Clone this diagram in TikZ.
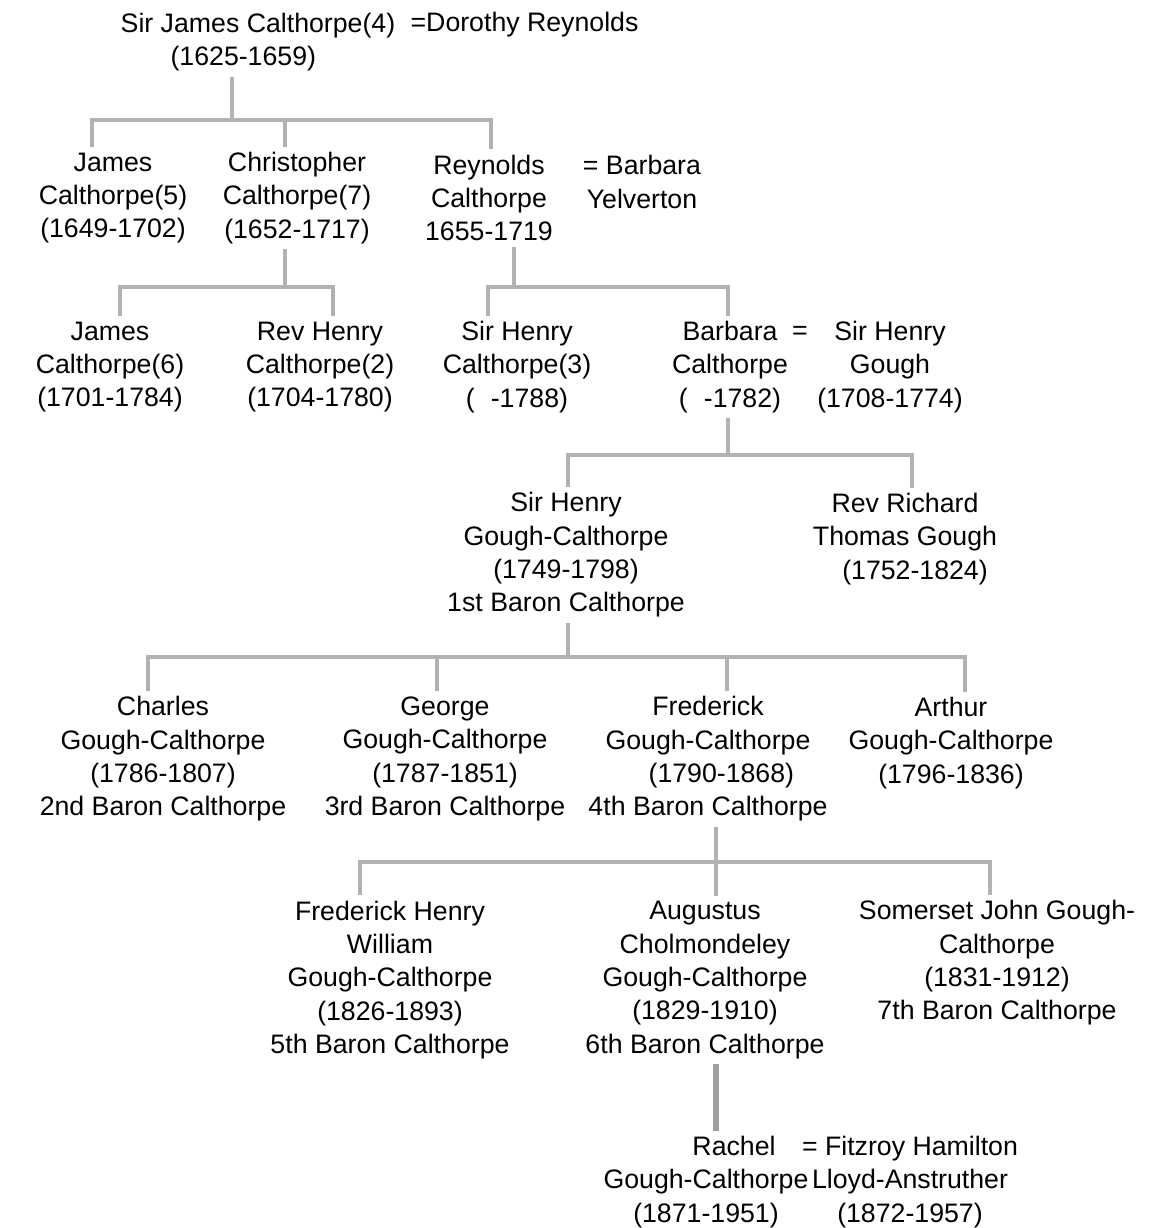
\documentclass[tikz,border=0pt]{standalone}
\usepackage{fontspec}
\setmainfont{Liberation Sans}
\usetikzlibrary{calc}

\tikzset{
  person/.style={align=center, inner sep=3pt, font=\fontsize{15.2}{19}\selectfont},
  link/.style={draw=gray!60, line width=2.2pt},
  bloodline/.style={draw=gray!75, line width=3pt},
}

\begin{document}
\begin{tikzpicture}[x=0.02cm, y=-0.02cm]
    \useasboundingbox (0,0) rectangle (1173,1228);

    % Sir James and Dorothy
    \node[person] (sirjames) at (258,42) {Sir James Calthorpe(4)\\(1625-1659)\hspace*{1.1em}};
    \node[person, anchor=west] (dorothy) at (405,25) {=Dorothy Reynolds};

    % Their sons
    \node[person] (james5) at (113,198) {James\\Calthorpe(5)\\(1649-1702)};
    \node[person] (christopher) at (297,198) {Christopher\\Calthorpe(7)\\(1652-1717)};
    \node[person] (reynolds) at (489,198) {Reynolds\\Calthorpe\\1655-1719};
    \node[person] (yelverton) at (642,182) {= Barbara\\Yelverton};

    % Grandchildren
    \node[person] (james6) at (110,367) {James\\Calthorpe(6)\\(1701-1784)};
    \node[person] (henry2) at (320,367) {Rev Henry\\Calthorpe(2)\\(1704-1780)};
    \node[person] (henry3) at (517,367) {Sir Henry\\Calthorpe(3)\\(\hspace{0.6em}-1788)};
    \node[person] (barbara) at (730,367) {Barbara\\Calthorpe\\(\hspace{0.6em}-1782)};
    \node[person] (eqgough) at (800,333) {=};
    \node[person] (gough) at (890,367) {Sir Henry\\Gough\\(1708-1774)};

    % Barbara's sons
    \node[person] (baron1) at (566,555) {Sir Henry\\Gough-Calthorpe\\(1749-1798)\\1st Baron Calthorpe};
    \node[person] (richard) at (905,539) {Rev Richard\\Thomas Gough\\\hspace*{0.75em}(1752-1824)};

    % Sons of the 1st Baron
    \node[person] (baron2) at (163,759) {Charles\\Gough-Calthorpe\\(1786-1807)\\2nd Baron Calthorpe};
    \node[person] (baron3) at (445,759) {George\\Gough-Calthorpe\\(1787-1851)\\3rd Baron Calthorpe};
    \node[person] (baron4) at (708,759) {Frederick\\Gough-Calthorpe\\\hspace*{1em}(1790-1868)\\4th Baron Calthorpe};
    \node[person] (arthur) at (951,743) {Arthur\\Gough-Calthorpe\\(1796-1836)};

    % Sons of the 4th Baron
    \node[person] (baron5) at (390,980) {Frederick Henry\\William\\Gough-Calthorpe\\(1826-1893)\\5th Baron Calthorpe};
    \node[person] (baron6) at (705,980) {Augustus\\Cholmondeley\\Gough-Calthorpe\\(1829-1910)\\6th Baron Calthorpe};
    \node[person] (baron7) at (997,963) {Somerset John Gough-\\Calthorpe\\(1831-1912)\\7th Baron Calthorpe};

    % Rachel and Fitzroy
    \node[person] (rachel) at (706,1182) {\hspace*{2.1em}Rachel\\Gough-Calthorpe\\(1871-1951)};
    \node[person] (fitzroy) at (910,1182) {= Fitzroy Hamilton\\Lloyd-Anstruther\\(1872-1957)};

    % Junctions
    \coordinate (fam1) at (232,120);
    \coordinate (fam2) at (285,287);
    \coordinate (fam3) at (514,287);
    \coordinate (fam4) at (728,455);
    \coordinate (fam5) at (568,657);
    \coordinate (fam6) at (716,862);

    % Lines
    \draw[link] ($(sirjames.south)+(-26,0)$) -- (fam1);
    \draw[link] ($(james5.north)+(-21,0)$) |- (fam1) -| ($(reynolds.north)+(2,0)$);
    \draw[link] ($(christopher.north)+(-12,0)$) |- (fam1);

    \draw[link] ($(christopher.south)+(-12,0)$) -- (fam2);
    \draw[link] ($(james6.north)+(10,0)$) |- (fam2) -| ($(henry2.north)+(13,0)$);

    \draw[link] ($(reynolds.south)+(25,0)$) -- (fam3);
    \draw[link] ($(henry3.north)+(-29,0)$) |- (fam3) -| ($(barbara.north)+(-2,0)$);

    \draw[link] ($(barbara.south)+(-2,0)$) -- (fam4);
    \draw[link] ($(baron1.north)+(2,0)$) |- (fam4) -| ($(richard.north)+(7,0)$);

    \draw[link] ($(baron1.south)+(2,0)$) -- (fam5);
    \draw[link] ($(baron2.north)+(-15,0)$) |- (fam5) -| ($(arthur.north)+(14,0)$);
    \draw[link] ($(baron3.north)+(-8,0)$) |- (fam5);
    \draw[link] ($(baron4.north)+(19,0)$) |- (fam5);

    \draw[link] ($(baron4.south)+(8,0)$) -- (fam6);
    \draw[link] ($(baron5.north)+(-30,0)$) |- (fam6) -| ($(baron7.north)+(-7,0)$);
    \draw[link] ($(baron6.north)+(11,0)$) -- (fam6);

    \draw[bloodline] ($(baron6.south)+(11,0)$) -- ($(rachel.north)+(10,0)$);
\end{tikzpicture}
\end{document}
